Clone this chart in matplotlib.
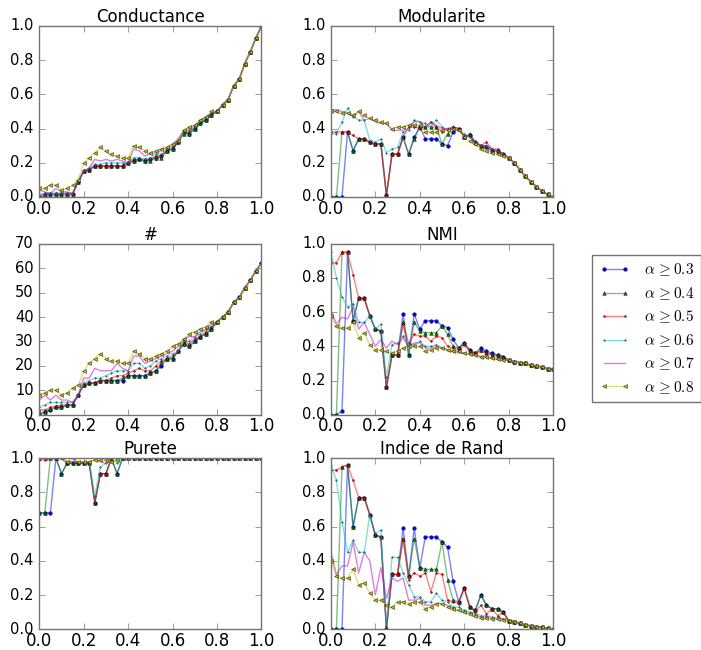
import matplotlib
matplotlib.use("Agg")
import matplotlib.pyplot as plt

# seuils sur l'axe x (0 -> 1 par pas de 0.025)
seuils = [0.0, 0.025, 0.05, 0.075, 0.1, 0.125, 0.15, 0.175, 0.2, 0.225,
          0.25, 0.275, 0.3, 0.325, 0.35, 0.375, 0.4, 0.425, 0.45, 0.475,
          0.5, 0.525, 0.55, 0.575, 0.6, 0.625, 0.65, 0.675, 0.7, 0.725,
          0.75, 0.775, 0.8, 0.825, 0.85, 0.875, 0.9, 0.925, 0.95, 0.975, 1.0]

labels = [r'$\alpha\,{\geq}0.3$', r'$\alpha\,{\geq}0.4$', r'$\alpha\,{\geq}0.5$',
          r'$\alpha\,{\geq}0.6$', r'$\alpha\,{\geq}0.7$', r'$\alpha\,{\geq}0.8$']

# Conductance (0 -> 0.8 par serie, puis fin commune)
cond_03 = [0.00, 0.02, 0.02, 0.02, 0.02, 0.02, 0.02, 0.09, 0.15, 0.16, 0.18, 0.18, 0.18, 0.18, 0.18, 0.18, 0.20,
           0.21, 0.22, 0.21, 0.22, 0.23, 0.24, 0.27, 0.28, 0.32, 0.38, 0.37, 0.40, 0.43, 0.45, 0.48, 0.50]
cond_04 = [0.00, 0.01, 0.02, 0.02, 0.02, 0.02, 0.02, 0.09, 0.15, 0.16, 0.18, 0.18, 0.18, 0.18, 0.18, 0.18, 0.20,
           0.21, 0.22, 0.21, 0.21, 0.23, 0.23, 0.27, 0.28, 0.32, 0.37, 0.37, 0.40, 0.43, 0.45, 0.48, 0.50]
cond_05 = [0.00, 0.00, 0.01, 0.01, 0.01, 0.01, 0.01, 0.09, 0.15, 0.16, 0.18, 0.18, 0.18, 0.18, 0.18, 0.18, 0.20,
           0.22, 0.22, 0.22, 0.22, 0.24, 0.24, 0.28, 0.29, 0.33, 0.38, 0.38, 0.41, 0.44, 0.46, 0.49, 0.50]
cond_06 = [0.02, 0.02, 0.02, 0.02, 0.02, 0.02, 0.02, 0.09, 0.15, 0.17, 0.19, 0.19, 0.20, 0.20, 0.20, 0.20, 0.20,
           0.23, 0.23, 0.22, 0.23, 0.25, 0.25, 0.28, 0.30, 0.33, 0.38, 0.39, 0.41, 0.44, 0.46, 0.49, 0.50]
cond_07 = [0.04, 0.03, 0.02, 0.05, 0.03, 0.03, 0.02, 0.09, 0.15, 0.17, 0.22, 0.21, 0.22, 0.21, 0.22, 0.21, 0.20,
           0.28, 0.27, 0.24, 0.25, 0.26, 0.27, 0.29, 0.31, 0.34, 0.39, 0.40, 0.42, 0.45, 0.47, 0.49, 0.50]
cond_08 = [0.05, 0.05, 0.07, 0.07, 0.04, 0.05, 0.07, 0.10, 0.20, 0.23, 0.26, 0.29, 0.27, 0.25, 0.24, 0.23, 0.23,
           0.30, 0.29, 0.27, 0.26, 0.27, 0.28, 0.29, 0.31, 0.33, 0.39, 0.41, 0.42, 0.45, 0.47, 0.50, 0.50]
cond_tail = [0.54, 0.57, 0.65, 0.69, 0.78, 0.85, 0.93, 1.00]

# Modularite
mod_03 = [0.00, 0.00, 0.00, 0.38, 0.27, 0.34, 0.34, 0.32, 0.31, 0.31, 0.01, 0.25, 0.25, 0.35, 0.25, 0.35, 0.41,
          0.34, 0.34, 0.34, 0.31, 0.30, 0.38, 0.40, 0.35, 0.36, 0.32, 0.30, 0.29, 0.27, 0.27, 0.25, 0.23]
mod_04 = [0.00, 0.00, 0.38, 0.38, 0.27, 0.34, 0.34, 0.32, 0.31, 0.31, 0.01, 0.25, 0.25, 0.35, 0.25, 0.34, 0.41,
          0.41, 0.41, 0.41, 0.31, 0.37, 0.41, 0.40, 0.35, 0.37, 0.32, 0.30, 0.30, 0.27, 0.27, 0.25, 0.23]
mod_05 = [0.38, 0.38, 0.38, 0.38, 0.36, 0.34, 0.34, 0.32, 0.31, 0.31, 0.01, 0.25, 0.25, 0.35, 0.41, 0.41, 0.40,
          0.41, 0.44, 0.41, 0.38, 0.40, 0.41, 0.40, 0.35, 0.36, 0.31, 0.30, 0.32, 0.28, 0.28, 0.25, 0.23]
mod_06 = [0.37, 0.37, 0.44, 0.52, 0.47, 0.45, 0.45, 0.33, 0.32, 0.34, 0.26, 0.28, 0.29, 0.38, 0.39, 0.45, 0.44,
          0.43, 0.41, 0.45, 0.41, 0.39, 0.40, 0.39, 0.37, 0.35, 0.32, 0.30, 0.30, 0.28, 0.27, 0.25, 0.23]
mod_07 = [0.51, 0.51, 0.50, 0.49, 0.47, 0.50, 0.45, 0.46, 0.44, 0.43, 0.43, 0.39, 0.39, 0.39, 0.40, 0.44, 0.44,
          0.41, 0.43, 0.42, 0.40, 0.40, 0.40, 0.39, 0.36, 0.35, 0.32, 0.30, 0.30, 0.28, 0.27, 0.25, 0.23]
mod_08 = [0.50, 0.50, 0.49, 0.49, 0.48, 0.50, 0.48, 0.46, 0.45, 0.44, 0.43, 0.40, 0.41, 0.41, 0.42, 0.42, 0.42,
          0.38, 0.38, 0.38, 0.39, 0.39, 0.40, 0.39, 0.35, 0.33, 0.31, 0.28, 0.27, 0.26, 0.25, 0.24, 0.23]
mod_tail = [0.20, 0.16, 0.12, 0.09, 0.06, 0.035, 0.015, 0.0]

# nombre de communautes
num_03 = [0, 1, 2, 3, 3, 4, 4, 8, 12, 13, 13, 14, 14, 14, 14, 14, 16,
          16, 16, 16, 17, 18, 20, 23, 23, 26, 29, 28, 30, 32, 33, 35, 38]
num_04 = [1, 1, 2.5, 3, 3, 4, 4, 8, 12, 13, 13, 14, 14, 14, 14, 15, 16,
          16, 16, 16, 17, 18, 21, 23, 23, 26, 29, 28, 30, 32, 33, 35, 38]
num_05 = [2, 2, 3, 3.5, 4, 4, 4, 8, 12, 13, 13, 14, 14, 15, 16, 16, 17,
          18, 19, 18, 18, 20, 22, 23, 24, 26, 30, 29, 31, 32, 34, 36, 38]
num_06 = [3, 4, 5, 5, 5, 5, 5, 8, 13, 14, 15, 15, 16, 17, 18, 18, 18,
          21, 21, 19, 20, 22, 23, 24, 25, 26, 30, 30, 32, 33, 35, 36, 38]
num_07 = [6, 8, 6, 8, 6, 6, 5, 8, 15, 15, 19, 18, 18, 18, 21, 19, 18,
          24, 24, 21, 22, 23, 24, 25, 26, 28, 31, 32, 32, 34, 35, 37, 38]
num_08 = [8, 9, 10, 10, 8, 9, 11, 12, 18, 21, 23, 25, 23, 22, 22, 21, 21,
          26, 25, 23, 23, 24, 25, 26, 28, 29, 31, 33, 34, 35, 36, 38, 38]
num_tail = [40, 42, 46, 48, 52, 55, 59, 62]

# NMI
nmi_03 = [0.00, 0.00, 0.02, 0.95, 0.55, 0.68, 0.68, 0.58, 0.50, 0.49, 0.16, 0.35, 0.35, 0.59, 0.35, 0.59, 0.50,
          0.55, 0.55, 0.55, 0.52, 0.51, 0.44, 0.39, 0.42, 0.38, 0.36, 0.39, 0.37, 0.36, 0.35, 0.34, 0.32]
nmi_04 = [0.00, 0.00, 0.95, 0.95, 0.55, 0.68, 0.68, 0.58, 0.50, 0.49, 0.16, 0.35, 0.35, 0.54, 0.35, 0.54, 0.49,
          0.48, 0.48, 0.48, 0.52, 0.47, 0.40, 0.39, 0.42, 0.37, 0.36, 0.38, 0.36, 0.35, 0.35, 0.34, 0.32]
nmi_05 = [0.89, 0.89, 0.95, 0.95, 0.82, 0.68, 0.68, 0.58, 0.50, 0.49, 0.16, 0.35, 0.35, 0.53, 0.42, 0.47, 0.46,
          0.46, 0.43, 0.46, 0.45, 0.40, 0.39, 0.38, 0.41, 0.37, 0.36, 0.37, 0.36, 0.35, 0.34, 0.33, 0.32]
nmi_06 = [0.95, 0.80, 0.69, 0.63, 0.65, 0.54, 0.54, 0.58, 0.50, 0.53, 0.22, 0.41, 0.42, 0.46, 0.41, 0.41, 0.43,
          0.40, 0.40, 0.41, 0.39, 0.38, 0.37, 0.37, 0.36, 0.355, 0.35, 0.34, 0.335, 0.33, 0.325, 0.32, 0.32]
nmi_07 = [0.61, 0.53, 0.57, 0.56, 0.63, 0.50, 0.54, 0.47, 0.40, 0.44, 0.39, 0.43, 0.41, 0.45, 0.40, 0.42, 0.42,
          0.39, 0.39, 0.40, 0.39, 0.38, 0.37, 0.36, 0.36, 0.355, 0.35, 0.34, 0.335, 0.33, 0.325, 0.32, 0.32]
nmi_08 = [0.58, 0.52, 0.51, 0.51, 0.54, 0.45, 0.48, 0.41, 0.38, 0.38, 0.37, 0.36, 0.37, 0.39, 0.40, 0.40, 0.40,
          0.37, 0.38, 0.39, 0.39, 0.38, 0.375, 0.37, 0.36, 0.355, 0.35, 0.34, 0.335, 0.33, 0.325, 0.32, 0.32]
nmi_tail = [0.31, 0.305, 0.30, 0.29, 0.285, 0.28, 0.27, 0.265]

# Purete
pur_03 = [0.68, 0.68, 0.68, 1.0, 0.91, 0.97, 0.97, 0.97, 0.97, 0.97, 0.74, 0.91, 0.91, 1.0, 0.91, 1.0, 1.0,
          1.0, 1.0, 1.0, 1.0, 1.0, 1.0, 1.0, 1.0, 1.0, 1.0, 1.0, 1.0, 1.0, 1.0, 1.0, 1.0]
pur_04 = [0.68, 0.68, 1.0, 1.0, 0.91, 0.97, 0.97, 0.97, 0.97, 0.97, 0.74, 0.91, 0.91, 1.0, 0.91, 1.0, 1.0,
          1.0, 1.0, 1.0, 1.0, 1.0, 1.0, 1.0, 1.0, 1.0, 1.0, 1.0, 1.0, 1.0, 1.0, 1.0, 1.0]
pur_05 = [0.99, 0.99, 1.0, 1.0, 1.0, 0.97, 0.97, 0.97, 0.97, 0.97, 0.74, 0.91, 0.91, 1.0, 1.0, 1.0, 1.0,
          1.0, 1.0, 1.0, 1.0, 1.0, 1.0, 1.0, 1.0, 1.0, 1.0, 1.0, 1.0, 1.0, 1.0, 1.0, 1.0]
pur_06 = [1.0, 1.0, 1.0, 1.0, 1.0, 0.98, 0.98, 0.98, 0.98, 0.98, 0.78, 0.95, 0.97, 1.0, 0.97, 1.0, 1.0,
          1.0, 1.0, 1.0, 1.0, 1.0, 1.0, 1.0, 1.0, 1.0, 1.0, 1.0, 1.0, 1.0, 1.0, 1.0, 1.0]
pur_07 = [1.0, 1.0, 1.0, 1.0, 1.0, 0.98, 0.98, 0.98, 0.98, 0.98, 0.99, 0.98, 0.97, 1.0, 1.0, 1.0, 1.0,
          1.0, 1.0, 1.0, 1.0, 1.0, 1.0, 1.0, 1.0, 1.0, 1.0, 1.0, 1.0, 1.0, 1.0, 1.0, 1.0]
pur_08 = [1.0, 1.0, 1.0, 1.0, 1.0, 0.98, 1.0, 0.98, 0.98, 0.98, 0.99, 0.99, 0.99, 0.98, 0.99, 1.0, 1.0,
          1.0, 1.0, 1.0, 1.0, 1.0, 1.0, 1.0, 1.0, 1.0, 1.0, 1.0, 1.0, 1.0, 1.0, 1.0, 1.0]
pur_tail = [1.0, 1.0, 1.0, 1.0, 1.0, 1.0, 1.0, 1.0]

# Indice de Rand
rand_03 = [0.00, 0.00, 0.00, 0.96, 0.60, 0.77, 0.77, 0.67, 0.55, 0.54, 0.00, 0.32, 0.32, 0.59, 0.31, 0.59, 0.36,
           0.54, 0.54, 0.54, 0.51, 0.48, 0.28, 0.16, 0.24, 0.13, 0.11, 0.20, 0.14, 0.12, 0.12, 0.10, 0.05]
rand_04 = [0.00, 0.00, 0.95, 0.96, 0.60, 0.77, 0.77, 0.67, 0.55, 0.54, 0.00, 0.32, 0.32, 0.53, 0.31, 0.53, 0.36,
           0.35, 0.35, 0.35, 0.51, 0.29, 0.17, 0.16, 0.24, 0.13, 0.11, 0.20, 0.14, 0.12, 0.12, 0.10, 0.05]
rand_05 = [0.93, 0.93, 0.95, 0.96, 0.87, 0.77, 0.77, 0.67, 0.55, 0.54, 0.00, 0.32, 0.32, 0.53, 0.29, 0.33, 0.31,
           0.33, 0.22, 0.33, 0.32, 0.17, 0.16, 0.15, 0.24, 0.13, 0.10, 0.14, 0.09, 0.12, 0.08, 0.10, 0.05]
rand_06 = [0.96, 0.87, 0.63, 0.45, 0.52, 0.45, 0.45, 0.67, 0.56, 0.58, 0.02, 0.42, 0.42, 0.33, 0.26, 0.19, 0.19,
           0.16, 0.16, 0.21, 0.17, 0.16, 0.13, 0.13, 0.11, 0.10, 0.09, 0.08, 0.08, 0.07, 0.07, 0.06, 0.05]
rand_07 = [0.45, 0.32, 0.37, 0.37, 0.51, 0.33, 0.45, 0.40, 0.20, 0.36, 0.18, 0.30, 0.28, 0.30, 0.17, 0.17, 0.18,
           0.14, 0.14, 0.15, 0.15, 0.14, 0.12, 0.11, 0.10, 0.09, 0.08, 0.07, 0.07, 0.06, 0.06, 0.06, 0.05]
rand_08 = [0.40, 0.31, 0.30, 0.30, 0.35, 0.26, 0.27, 0.21, 0.17, 0.17, 0.14, 0.13, 0.16, 0.16, 0.15, 0.16, 0.16,
           0.12, 0.13, 0.15, 0.15, 0.13, 0.12, 0.11, 0.10, 0.09, 0.08, 0.065, 0.065, 0.06, 0.06, 0.055, 0.05]
rand_tail = [0.045, 0.035, 0.025, 0.02, 0.015, 0.01, 0.005, 0.0]

panels = [
    ('Conductance', [cond_03, cond_04, cond_05, cond_06, cond_07, cond_08], cond_tail, 1.0),
    ('Modularite', [mod_03, mod_04, mod_05, mod_06, mod_07, mod_08], mod_tail, 1.0),
    ('#', [num_03, num_04, num_05, num_06, num_07, num_08], num_tail, 70),
    ('NMI', [nmi_03, nmi_04, nmi_05, nmi_06, nmi_07, nmi_08], nmi_tail, 1.0),
    ('Purete', [pur_03, pur_04, pur_05, pur_06, pur_07, pur_08], pur_tail, 1.0),
    ('Indice de Rand', [rand_03, rand_04, rand_05, rand_06, rand_07, rand_08], rand_tail, 1.0),
]

# style de chaque serie : couleur, marqueur, taille
styles = [('b', 'o', 2.6), ('g', '^', 2.6), ('r', '.', 2.6),
          ('c', '.', 2.0), ('m', 'None', 2.0), ('y', '<', 2.8)]

plt.style.use('classic')
plt.rcParams['figure.facecolor'] = 'white'
plt.rcParams['savefig.facecolor'] = 'white'
plt.rcParams['mathtext.fontset'] = 'cm'
plt.rcParams['axes.edgecolor'] = '0.45'
plt.rcParams['xtick.color'] = '0.45'
plt.rcParams['ytick.color'] = '0.45'
plt.rcParams['xtick.labelcolor'] = 'black'
plt.rcParams['ytick.labelcolor'] = 'black'

fig = plt.figure(figsize=(7.01, 6.5), dpi=100)

lefts = [0.056, 0.472]
bottoms = [0.697, 0.362, 0.032]
width, height = 0.317, 0.263

handles = []
for k, (title, series, tail, ymax) in enumerate(panels):
    ax = fig.add_axes([lefts[k % 2], bottoms[k // 2], width, height])
    handles = []
    for vals, (col, mk, ms) in zip(series, styles):
        y = vals + tail
        rgba = matplotlib.colors.to_rgba(col, 0.5)
        h, = ax.plot(seuils, y, color=rgba, lw=1.0, marker=mk,
                     ms=ms, mfc=col, mec='k', mew=0.3)
        handles.append(h)
    ax.set_xlim(0, 1)
    ax.set_ylim(0, ymax)
    ax.set_xticks([0.0, 0.2, 0.4, 0.6, 0.8, 1.0])
    ax.tick_params(axis='x', labelsize=12, pad=2)
    ax.tick_params(axis='y', labelsize=10.5)
    ax.set_title(title, fontsize=12, pad=3)

fig.legend(handles, labels, loc='upper left', bbox_to_anchor=(0.845, 0.608),
           borderaxespad=0, fontsize=11, numpoints=2, handlelength=2.0,
           handletextpad=0.9, labelspacing=0.45, borderpad=0.45,
           edgecolor='0.45')

fig.savefig('out.png', dpi=100)
